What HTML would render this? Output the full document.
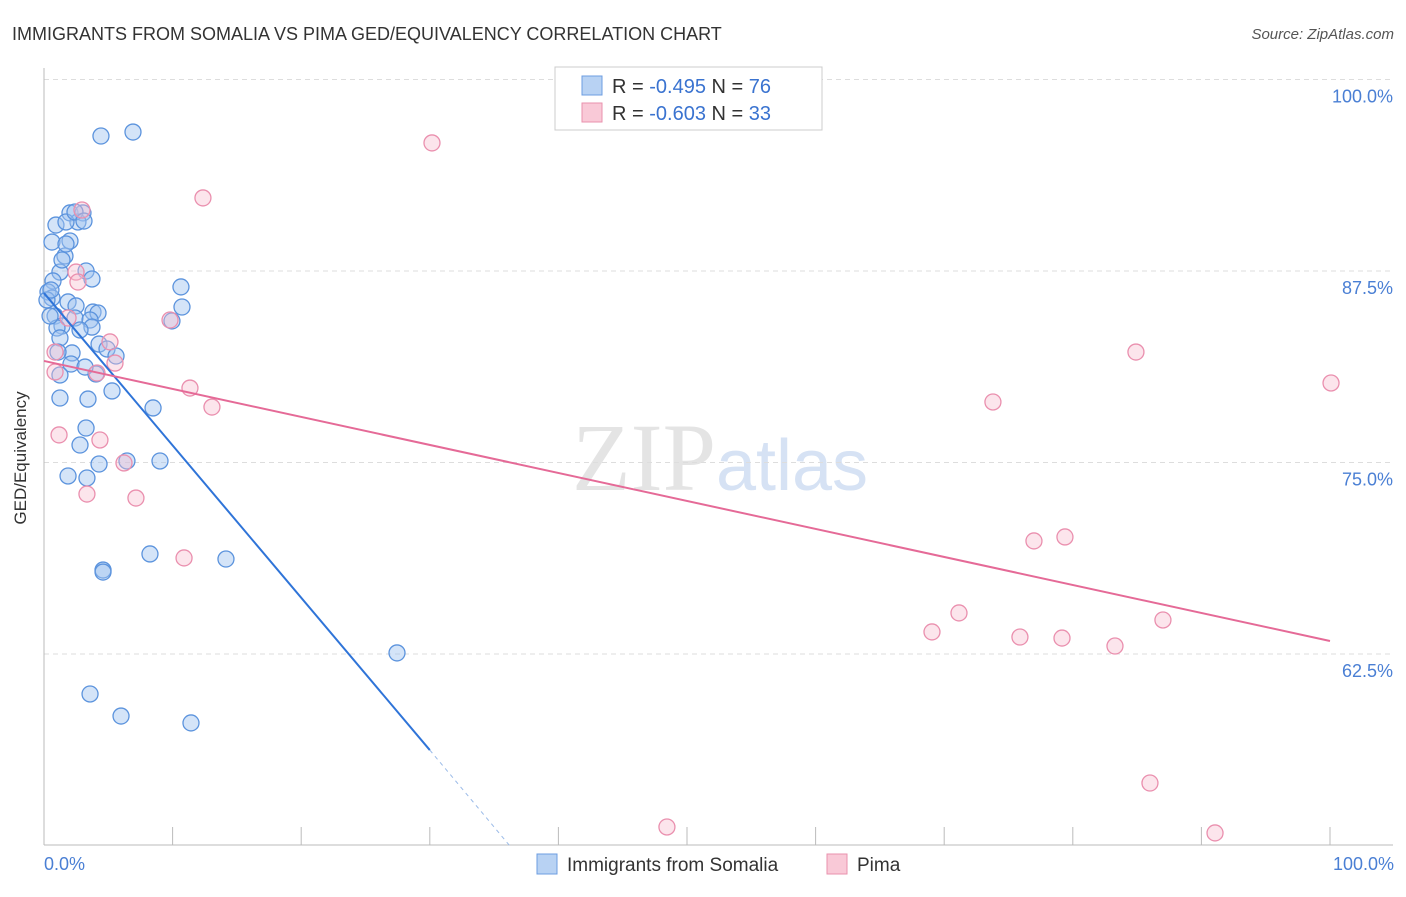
<!DOCTYPE html>
<html><head><meta charset="utf-8"><style>
body{margin:0;background:#fff;font-family:"Liberation Sans",sans-serif;}
</style></head><body>
<svg width="1406" height="892" xmlns="http://www.w3.org/2000/svg">
<text x="12" y="40" font-size="18" fill="#333">IMMIGRANTS FROM SOMALIA VS PIMA GED/EQUIVALENCY CORRELATION CHART</text>
<text x="1394" y="39" font-size="15" fill="#555" font-style="italic" text-anchor="end">Source: ZipAtlas.com</text>
<text x="720" y="490" font-size="96" fill="#e4e4e4" text-anchor="middle" font-family="Liberation Serif">ZIP<tspan fill="#d6e2f4" font-family="Liberation Sans" font-size="72">atlas</tspan></text>
<g id="grid"></g>
<line x1="44" y1="68" x2="44" y2="845" stroke="#bbb"/>
<line x1="44" y1="845" x2="1393" y2="845" stroke="#bbb"/>
<text x="26" y="458" font-size="17" fill="#333" text-anchor="middle" transform="rotate(-90 26 458)">GED/Equivalency</text>
<text x="44" y="870" font-size="18" fill="#4a7fd4">0.0%</text>
<text x="1394" y="870" font-size="18" fill="#4a7fd4" text-anchor="end">100.0%</text>
<g id="ylabels"></g><g id="xticks"></g>
<g id="pts"></g><g id="lines"></g>
<g>
<rect x="555" y="67" width="267" height="63" fill="#fff" stroke="#ccc"/>
<rect x="582" y="76" width="20" height="19" fill="#b8d2f3" stroke="#6c9de0"/>
<rect x="582" y="103" width="20" height="19" fill="#f9c9d7" stroke="#e991ad"/>
<text x="612" y="93" font-size="20" fill="#333">R = <tspan fill="#3a73d0">-0.495</tspan>   N = <tspan fill="#3a73d0">76</tspan></text>
<text x="612" y="120" font-size="20" fill="#333">R = <tspan fill="#3a73d0">-0.603</tspan>   N = <tspan fill="#3a73d0">33</tspan></text>
</g>
<g>
<rect x="537" y="854" width="20" height="20" fill="#b8d2f3" stroke="#6c9de0"/>
<text x="567" y="871" font-size="19" fill="#333">Immigrants from Somalia</text>
<rect x="827" y="854" width="20" height="20" fill="#f9c9d7" stroke="#e991ad"/>
<text x="857" y="871" font-size="19" fill="#333">Pima</text>
</g>
</svg>
<script>
const yTicks=[100,87.5,75,62.5];
const yTickLabels=["100.0%","87.5%","75.0%","62.5%"];
const xTicks=[0,10,20,30,40,50,60,70,80,90,100];
const bluePx=[[101,136],[133,132],[56,225],[70,213],[83,213],[78,222],[66,222],[52,242],[70,241],[65,256],[60,272],[86,271],[92,279],[53,281],[48,292],[52,298],[68,302],[76,306],[93,312],[98,313],[55,316],[75,318],[90,320],[62,326],[57,328],[92,327],[80,330],[60,338],[99,344],[72,353],[107,349],[116,356],[58,352],[71,364],[96,374],[85,367],[60,375],[112,391],[60,398],[88,399],[153,408],[86,428],[80,445],[99,464],[127,461],[160,461],[68,476],[87,478],[181,287],[182,307],[172,321],[150,554],[226,559],[103,570],[103,572],[397,653],[90,694],[121,716],[191,723],[50,316],[47,300],[51,290],[62,260],[66,244],[75,212],[84,221]];
const pinkPx=[[432,143],[203,198],[82,210],[76,272],[78,282],[68,318],[170,320],[110,342],[115,363],[55,372],[55,352],[190,388],[212,407],[97,373],[59,435],[100,440],[124,463],[87,494],[136,498],[184,558],[1136,352],[1331,383],[993,402],[1034,541],[1065,537],[959,613],[932,632],[1020,637],[1062,638],[1115,646],[1163,620],[1150,783],[667,827],[1215,833]];
// convert estimated positions into data values (x%, y%)
const blueX=bluePx.map(p=>+((p[0]-44)/12.86).toFixed(2));
const blueY=bluePx.map(p=>+(100-(p[1]-79.5)/15.32).toFixed(2));
const pinkX=pinkPx.map(p=>+((p[0]-44)/12.86).toFixed(2));
const pinkY=pinkPx.map(p=>+(100-(p[1]-79.5)/15.32).toFixed(2));
const blueTrend=[[0,86.06],[30,56.23],[36.2,50]];
const pinkTrend=[[0,81.63],[100,63.35]];
const NS="http://www.w3.org/2000/svg";
const sx=v=>44+v*12.86, sy=v=>79.5+(100-v)*15.32;
function mk(t,a,p){const e=document.createElementNS(NS,t);for(const k in a)e.setAttribute(k,a[k]);document.getElementById(p).appendChild(e);return e;}
yTicks.forEach((v,i)=>{
 const l=mk('line',{x1:44,x2:1393,y1:sy(v),y2:sy(v),stroke:'#ddd','stroke-dasharray':'5,4'},'grid');
 
 
 const t=mk('text',{x:1393,y:sy(v)+23,'font-size':18,fill:'#4a7fd4','text-anchor':'end'},'ylabels');
 t.textContent=yTickLabels[i];
 
 
});
xTicks.forEach(v=>{
 const l=mk('line',{x1:sx(v),x2:sx(v),y1:827,y2:845,stroke:'#bbb'},'xticks');
 
 
});
blueX.forEach((x,i)=>{
 const c=mk('circle',{cx:sx(x),cy:sy(blueY[i]),r:8,fill:'rgba(160,196,240,0.45)',stroke:'#5b93dd','stroke-width':1.3},'pts');
 
 
});
pinkX.forEach((x,i)=>{
 const c=mk('circle',{cx:sx(x),cy:sy(pinkY[i]),r:8,fill:'rgba(248,190,208,0.4)',stroke:'#ea8fae','stroke-width':1.3},'pts');
 
 
});
let b=mk('line',{x1:sx(blueTrend[0][0]),y1:sy(blueTrend[0][1]),x2:sx(blueTrend[1][0]),y2:sy(blueTrend[1][1]),stroke:'#2f74d8','stroke-width':2},'lines');


b=mk('line',{x1:sx(blueTrend[1][0]),y1:sy(blueTrend[1][1]),x2:sx(blueTrend[2][0]),y2:sy(blueTrend[2][1]),stroke:'#9bbbe8','stroke-width':1,'stroke-dasharray':'4,4'},'lines');


b=mk('line',{x1:sx(pinkTrend[0][0]),y1:sy(pinkTrend[0][1]),x2:sx(pinkTrend[1][0]),y2:sy(pinkTrend[1][1]),stroke:'#e56a97','stroke-width':2},'lines');


</script>
</body></html>
